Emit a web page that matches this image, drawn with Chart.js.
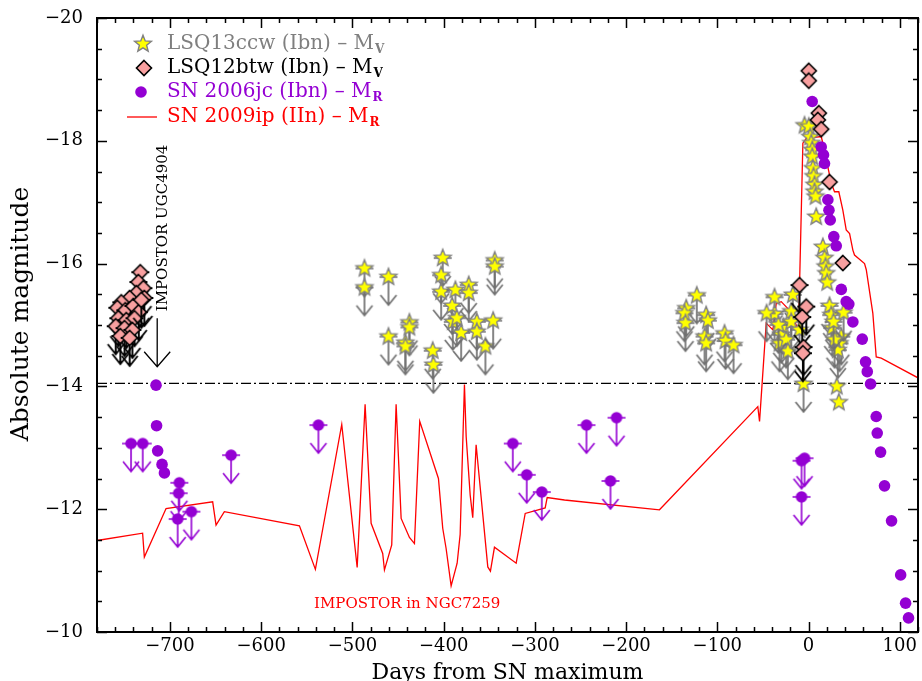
<!DOCTYPE html>
<html><head><meta charset="utf-8">
<style>html,body{margin:0;padding:0;background:#fff;}#wrap{width:922px;height:681px;}</style>
<script src="https://cdn.jsdelivr.net/npm/chart.js@4.4.1/dist/chart.umd.min.js"></script>
</head><body><div id="wrap"><canvas id="c" width="922" height="681"></canvas></div>
<script>
// ---------------- DATA ----------------
const xTickValues = [-700, -600, -500, -400, -300, -200, -100, 0, 100];
const yTickValues = [-20, -18, -16, -14, -12, -10];

// LSQ13ccw (Ibn) - M_V : detections
const ccwDetDays = [-4.4, 0.3, 1.9, 3.0, 4.1, 4.1, 4.7, 5.5, 6.6, 6.6, 7.7, 8.4, 15.7, 17.5, 18.6, 19.4, 20.5, 31.0, 33.2];
const ccwDetMag  = [-18.25, -18.23, -18.06, -17.96, -17.85, -17.74, -17.55, -17.42, -17.28, -17.17, -17.09, -16.76, -16.27, -16.09, -15.95, -15.84, -15.69, -14.00, -13.74];
// LSQ13ccw upper limits
const ccwLimDays = [-486.8, -486.8, -460.5, -460.5, -437.5, -437.5, -441.9, -441.9, -412.0, -411.2, -401.0, -402.7, -402.7, -387.1, -390.7, -390.0, -385.6, -380.8, -372.5, -372.5, -363.7, -363.7, -354.2, -345.7, -344.0, -344.0,
  -122.5, -134.1, -136.0, -134.9, -112.2, -110.4, -114.0, -112.2, -92.1, -91.0, -82.2,
  -37.3, -37.3, -17.2, -19.0, -27.4, -19.0, -29.9, -31.8, -24.5, -22.7, -9.9, -46.0, -33.0, -5.5,
  23.0, 24.9, 26.0, 35.9, 34.0, 32.1, 38.4, 28.5, 27.4];
const ccwLimMag  = [-15.92, -15.61, -15.78, -14.81, -15.04, -14.96, -14.71, -14.65, -14.58, -14.35, -16.09, -15.81, -15.54, -15.57, -15.31, -15.05, -15.11, -14.87, -15.65, -15.52, -15.05, -14.89, -14.65, -15.07, -16.05, -15.95,
  -15.48, -15.27, -15.19, -15.03, -15.16, -15.07, -14.81, -14.70, -14.86, -14.74, -14.67,
  -15.45, -15.18, -15.49, -15.22, -14.97, -15.05, -14.84, -14.70, -14.76, -14.57, -14.92, -15.19, -15.00, -14.04,
  -15.31, -15.16, -14.95, -14.81, -14.70, -14.59, -15.20, -14.76, -15.05];

// LSQ12btw (Ibn) - M_V
const btwDetDays = [0.3, 0.3, 11.3, 10.2, 13.9, 23.0, 37.6];
const btwDetMag  = [-19.14, -18.98, -18.45, -18.34, -18.19, -17.33, -16.01];
const btwLimDays = [-732.5, -734.6, -729.1, -736.8, -744.2, -753.3, -728.1, -757.7, -748.9, -740.1, -734.2, -756.6, -747.8, -738.9, -759.5, -749.8, -741.2, -754.4, -744.2, -731.4,
  -9.9, -2.5, -6.9, -5.5, -6.2];
const btwLimMag  = [-15.86, -15.70, -15.60, -15.52, -15.44, -15.37, -15.44, -15.28, -15.24, -15.31, -15.21, -15.11, -15.08, -15.11, -14.98, -14.95, -14.92, -14.82, -14.79, -15.41,
  -15.65, -15.30, -15.13, -14.64, -14.54];

// SN 2006jc (Ibn) - M_R
const jcDetDays = [-715.3, -714.7, -713.5, -708.7, -706.1,
  4.0, 13.9, 16.4, 17.5, 21.2, 22.4, 23.8, 27.7, 30.4, 35.9, 41.3, 44.2, 48.6, 58.9, 62.5, 64.4, 68.0, 74.2, 75.3, 79.0, 83.3, 91.0, 101.0, 106.4, 109.6];
const jcDetMag  = [-14.02, -13.36, -12.95, -12.73, -12.59,
  -18.64, -17.90, -17.77, -17.63, -17.04, -16.87, -16.71, -16.44, -16.29, -15.58, -15.38, -15.34, -15.05, -14.77, -14.40, -14.24, -14.04, -13.51, -13.24, -12.93, -12.38, -11.81, -10.93, -10.47, -10.23];
const jcLimDays = [-742.7, -729.9, -689.7, -690.5, -691.6, -676.5, -633.0, -537.3, -324.2, -308.9, -292.4, -243.4, -217.1, -210.5, -7.7, -4.4, -7.7];
const jcLimMag  = [-13.07, -13.07, -12.43, -12.26, -11.84, -11.96, -12.88, -13.37, -13.07, -12.56, -12.28, -13.37, -12.46, -13.49, -12.79, -12.83, -12.20];

// SN 2009ip (IIn) - M_R
const ipDays = [-780, -730, -728.1, -704.3, -653.2, -649.5, -640.4, -558.1, -540.6, -511.7, -494.8, -486.1, -479.5, -466.8, -464.9, -456.9, -452.1, -446.6, -437.5, -432.0, -426.2, -405.7, -401.0, -397.3, -391.8, -385.2, -381.9, -377.2, -375.3, -370.9, -368.1, -364.4, -351.6, -348.7, -344.3, -320.5, -310.6, -288.7, -286.5, -267.5, -163.4, -55.6, -53.7, -46.4, -39.1, -35.4, -29.9, -20.8, -11.0, -6.2, -2.5, 13.9, 15.7, 24.9, 28.5, 33.2, 37.6, 41.3, 45.0, 48.6, 50.4, 61.4, 63.3, 70.5, 74.2, 79.7, 120];
const ipMag  = [-11.49, -11.61, -11.22, -12.01, -12.12, -11.74, -11.96, -11.73, -11.02, -13.38, -11.05, -13.71, -11.77, -11.28, -11.01, -11.42, -13.71, -11.85, -11.54, -11.44, -13.43, -12.50, -11.69, -11.36, -10.75, -11.12, -11.59, -14.03, -13.18, -12.23, -11.86, -13.05, -11.06, -10.99, -11.38, -11.12, -11.93, -12.02, -12.19, -12.15, -11.99, -13.67, -13.43, -15.03, -14.92, -15.35, -15.38, -15.24, -14.92, -17.96, -18.04, -18.07, -17.96, -17.31, -17.17, -17.17, -16.87, -16.55, -16.49, -16.22, -16.14, -16.00, -15.90, -15.19, -14.48, -14.46, -14.14];

const thresholdMag = -14.05;

// ---------------- STYLES ----------------
const GRAY = '#808080', PURPLE = '#9400d3', RED = '#ff0000', PINK = '#f8a0a0', YELLOW = '#ffff00';
const FONT = '"DejaVu Serif", serif';

function starPath(g, cx, cy, R, r) {
  g.beginPath();
  for (let i = 0; i < 10; i++) {
    const a = -Math.PI / 2 + i * Math.PI / 5;
    const rr = (i % 2 === 0) ? R : r;
    const px = cx + rr * Math.cos(a), py = cy + rr * Math.sin(a);
    if (i === 0) g.moveTo(px, py); else g.lineTo(px, py);
  }
  g.closePath();
}
function drawStar(g, cx, cy) {
  starPath(g, cx, cy, 8.8, 3.8);
  g.fillStyle = YELLOW; g.fill();
  g.strokeStyle = GRAY; g.lineWidth = 1.4; g.stroke();
}
function drawDiamond(g, cx, cy) {
  g.beginPath();
  g.moveTo(cx, cy - 7.5); g.lineTo(cx + 7.5, cy); g.lineTo(cx, cy + 7.5); g.lineTo(cx - 7.5, cy); g.closePath();
  g.fillStyle = PINK; g.fill();
  g.strokeStyle = '#000'; g.lineWidth = 1.6; g.stroke();
}
function drawCircle(g, cx, cy) {
  g.beginPath(); g.arc(cx, cy, 5.8, 0, Math.PI * 2);
  g.fillStyle = PURPLE; g.fill();
}
function drawArrow(g, cx, cy, color, lw) {
  g.strokeStyle = color; g.lineWidth = lw; g.lineCap = 'butt';
  g.beginPath();
  g.moveTo(cx - 9, cy); g.lineTo(cx + 9, cy);
  g.moveTo(cx, cy); g.lineTo(cx, cy + 28);
  g.moveTo(cx - 8, cy + 18); g.lineTo(cx, cy + 28); g.lineTo(cx + 8, cy + 18);
  g.stroke();
}
function glyph(kind, limit) {
  const W = 24, half = limit ? 40 : 12;
  const c = document.createElement('canvas');
  c.width = W; c.height = half * 2;
  const g = c.getContext('2d');
  const cx = W / 2, cy = half;
  if (limit) {
    if (kind === 'star') drawArrow(g, cx, cy, '#707070', 1.7);
    if (kind === 'diamond') drawArrow(g, cx, cy, '#000000', 1.9);
    if (kind === 'circle') drawArrow(g, cx, cy, PURPLE, 1.6);
  }
  if (kind === 'star') drawStar(g, cx, cy);
  if (kind === 'diamond') drawDiamond(g, cx, cy);
  if (kind === 'circle') drawCircle(g, cx, cy);
  return c;
}
const starG = glyph('star', false), starLimG = glyph('star', true);
const diaG = glyph('diamond', false), diaLimG = glyph('diamond', true);
const cirLimG = glyph('circle', true);

const pts = (xs, ys) => xs.map((v, i) => ({ x: v, y: ys[i] }));
const fmt = v => (v < 0 ? '\u2212' : '') + Math.abs(v);

// ---------------- DECORATION PLUGIN ----------------
const decor = {
  id: 'decor',
  afterDraw(chart) {
    const { ctx, chartArea: a, scales: { x, y } } = chart;
    ctx.save();
    // frame
    ctx.strokeStyle = '#000'; ctx.lineWidth = 2;
    ctx.strokeRect(a.left, a.top, a.right - a.left, a.bottom - a.top);
    // inward ticks
    ctx.lineWidth = 1.5;
    ctx.beginPath();
    for (let v = -780; v <= 120; v += 20) {
      const px = Math.round(x.getPixelForValue(v)) + 0.5;
      const len = (v % 100 === 0) ? 10 : 5;
      ctx.moveTo(px, a.bottom); ctx.lineTo(px, a.bottom - len);
      ctx.moveTo(px, a.top); ctx.lineTo(px, a.top + len);
    }
    for (let k = 0; k <= 20; k++) {
      const v = -20 + k * 0.5;
      const py = Math.round(y.getPixelForValue(v)) + 0.5;
      const len = (k % 4 === 0) ? 10 : 5;
      ctx.moveTo(a.left, py); ctx.lineTo(a.left + len, py);
      ctx.moveTo(a.right, py); ctx.lineTo(a.right - len, py);
    }
    ctx.stroke();

    // y-axis title
    ctx.save();
    ctx.translate(21, 314);
    ctx.rotate(-Math.PI / 2);
    ctx.fillStyle = '#000'; ctx.font = '25px ' + FONT;
    ctx.textAlign = 'center'; ctx.textBaseline = 'middle';
    ctx.fillText('Absolute magnitude', 0, 0);
    ctx.restore();

    // annotation: impostor UGC4904
    const axp = x.getPixelForValue(-714);
    const aTop = y.getPixelForValue(-15.11), aTip = y.getPixelForValue(-14.32);
    ctx.strokeStyle = '#000'; ctx.lineWidth = 1.3;
    ctx.beginPath();
    ctx.moveTo(axp, aTop); ctx.lineTo(axp, aTip);
    ctx.moveTo(axp - 13, aTip - 15); ctx.lineTo(axp, aTip); ctx.lineTo(axp + 13, aTip - 15);
    ctx.stroke();
    ctx.save();
    ctx.translate(x.getPixelForValue(-707.5), y.getPixelForValue(-16.58));
    ctx.rotate(-Math.PI / 2);
    ctx.fillStyle = '#000'; ctx.font = '15px ' + FONT;
    ctx.textAlign = 'center'; ctx.textBaseline = 'middle';
    ctx.fillText('IMPOSTOR UGC4904', 0, 0);
    ctx.restore();
    // annotation: impostor NGC7259
    ctx.fillStyle = RED; ctx.font = '15px ' + FONT;
    ctx.textAlign = 'center'; ctx.textBaseline = 'middle';
    ctx.fillText('IMPOSTOR in NGC7259', x.getPixelForValue(-440), y.getPixelForValue(-10.45));

    // legend
    const L = a.left, T = a.top;
    const rows = [
      { y: T + 26, color: '#7f7f7f', text: 'LSQ13ccw (Ibn) \u2013 M', sub: 'V', mark: 'star' },
      { y: T + 50, color: '#000000', text: 'LSQ12btw (Ibn) \u2013 M', sub: 'V', mark: 'diamond' },
      { y: T + 74, color: PURPLE, text: 'SN 2006jc (Ibn) \u2013 M', sub: 'R', mark: 'circle' },
      { y: T + 99, color: RED, text: 'SN 2009ip (IIn) \u2013 M', sub: 'R', mark: 'line' }
    ];
    rows.forEach(r => {
      if (r.mark === 'star') drawStar(ctx, L + 46, r.y);
      if (r.mark === 'diamond') drawDiamond(ctx, L + 47, r.y);
      if (r.mark === 'circle') { ctx.beginPath(); ctx.arc(L + 44, r.y, 5.8, 0, Math.PI * 2); ctx.fillStyle = PURPLE; ctx.fill(); }
      if (r.mark === 'line') { ctx.strokeStyle = RED; ctx.lineWidth = 1.3; ctx.beginPath(); ctx.moveTo(L + 30, r.y); ctx.lineTo(L + 60, r.y); ctx.stroke(); }
      ctx.fillStyle = r.color; ctx.font = '20px ' + FONT;
      ctx.textAlign = 'left'; ctx.textBaseline = 'middle';
      const tx = L + 70;
      ctx.fillText(r.text, tx, r.y);
      const w = ctx.measureText(r.text).width;
      ctx.font = 'bold 12px ' + FONT;
      ctx.fillText(r.sub, tx + w + 1, r.y + 6);
    });
    ctx.restore();
  }
};

// ---------------- CHART ----------------
new Chart(document.getElementById('c'), {
  type: 'scatter',
  data: {
    datasets: [
      { label: 'LSQ12btw (Ibn) - M_V', data: pts(btwDetDays, btwDetMag), pointStyle: diaG, pointRadius: 6, order: 1 },
      { label: 'LSQ12btw upper limits', data: pts(btwLimDays, btwLimMag), pointStyle: diaLimG, pointRadius: 6, order: 2 },
      { label: 'SN 2006jc (Ibn) - M_R', data: pts(jcDetDays, jcDetMag), pointStyle: 'circle', pointRadius: 5.8, backgroundColor: PURPLE, borderColor: PURPLE, borderWidth: 0, order: 3 },
      { label: 'SN 2006jc upper limits', data: pts(jcLimDays, jcLimMag), pointStyle: cirLimG, pointRadius: 5, order: 4 },
      { label: 'LSQ13ccw (Ibn) - M_V', data: pts(ccwDetDays, ccwDetMag), pointStyle: starG, pointRadius: 6, order: 5 },
      { label: 'LSQ13ccw upper limits', data: pts(ccwLimDays, ccwLimMag), pointStyle: starLimG, pointRadius: 6, order: 6 },
      { label: 'SN 2009ip (IIn) - M_R', data: pts(ipDays, ipMag), showLine: true, pointRadius: 0, borderColor: RED, borderWidth: 1.3, tension: 0, order: 7 },
      { label: 'threshold', data: [{ x: -780, y: thresholdMag }, { x: 120, y: thresholdMag }], showLine: true, pointRadius: 0, borderColor: '#000', borderWidth: 1.2, borderDash: [10, 3, 2, 3], order: 8 }
    ]
  },
  options: {
    responsive: false, animation: false, devicePixelRatio: 1, events: [],
    layout: { autoPadding: false, padding: { top: 18, right: 4, left: 0, bottom: 0 } },
    plugins: { legend: { display: false }, tooltip: { enabled: false } },
    scales: {
      x: {
        type: 'linear', min: -780, max: 120,
        afterBuildTicks: s => { s.ticks = xTickValues.map(v => ({ value: v })); },
        afterFit: s => { s.height = 49; s.paddingLeft = 0; s.paddingRight = 0; },
        grid: { display: false, drawTicks: false }, border: { display: false },
        ticks: { callback: v => fmt(v), autoSkip: false, maxRotation: 0, padding: 4, color: '#000', font: { family: FONT, size: 18 } },
        title: { display: true, text: 'Days from SN maximum', color: '#000', font: { family: FONT, size: 22, lineHeight: 1 }, padding: { top: 0, bottom: -3 } }
      },
      y: {
        type: 'linear', min: -20, max: -10, reverse: true,
        afterBuildTicks: s => { s.ticks = yTickValues.map(v => ({ value: v })); },
        afterFit: s => { s.width = 97; s.paddingTop = 0; s.paddingBottom = 0; },
        grid: { display: false, drawTicks: false }, border: { display: false },
        ticks: { callback: v => fmt(v), autoSkip: false, padding: 14, color: '#000', font: { family: FONT, size: 18 } },
        title: { display: false }
      }
    }
  },
  plugins: [decor]
});
</script></body></html>
